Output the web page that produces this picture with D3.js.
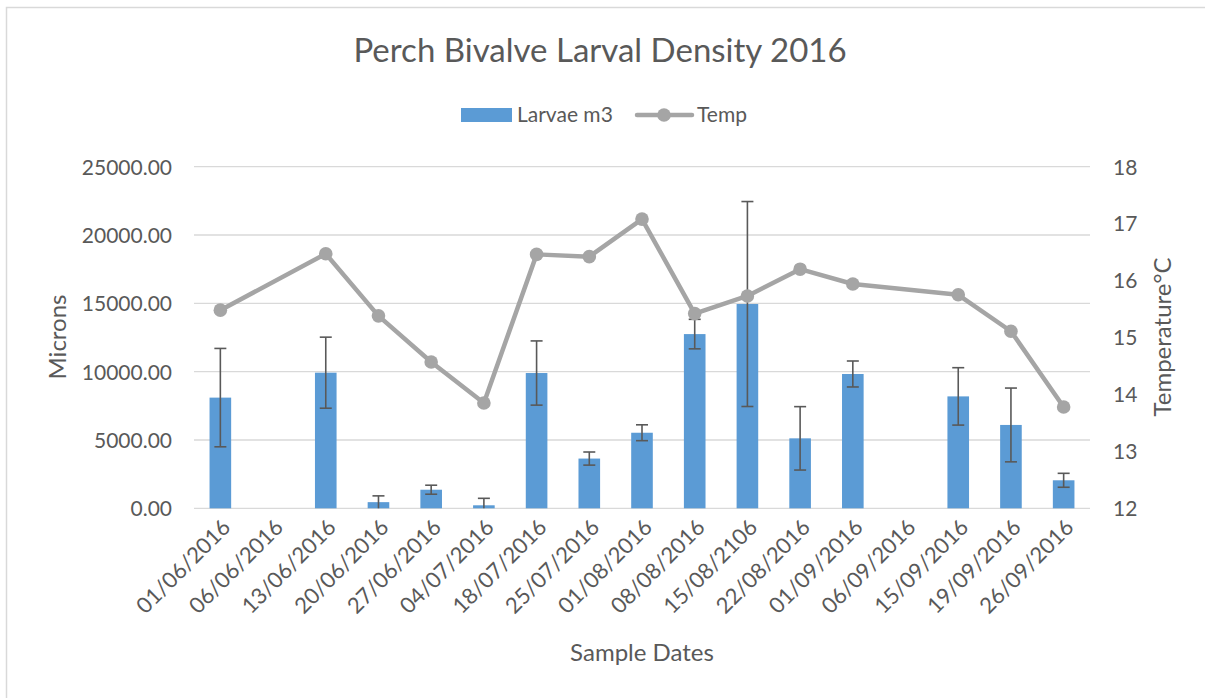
<!DOCTYPE html>
<html><head><meta charset="utf-8">
<script src="https://cdn.jsdelivr.net/npm/d3@7"></script>
<style>
html,body{margin:0;padding:0;background:#fff;}
svg{display:block;}
text{font-family:"Lato","Open Sans",sans-serif;fill:#595959;}
</style></head>
<body>
<svg id="chart" width="1205" height="698"></svg>
<script>
const dates = ["01/06/2016","06/06/2016","13/06/2016","20/06/2016","27/06/2016","04/07/2016","18/07/2016","25/07/2016","01/08/2016","08/08/2016","15/08/2106","22/08/2016","01/09/2016","06/09/2016","15/09/2016","19/09/2016","26/09/2016"];
const larvae = [8100, null, 9925, 450, 1360, 220, 9900, 3640, 5530, 12750, 14950, 5120, 9830, null, 8190, 6100, 2050];
const larvaeErr = [3600, null, 2600, 460, 330, 510, 2350, 480, 580, 1080, 7500, 2320, 950, null, 2100, 2700, 510];
const temp = [15.48, null, 16.47, 15.38, 14.57, 13.85, 16.46, 16.42, 17.08, 15.42, 15.73, 16.20, 15.94, null, 15.75, 15.11, 13.78];
const leftTicks = [0, 5000, 10000, 15000, 20000, 25000];
const rightTicks = [12, 13, 14, 15, 16, 17, 18];

const svg = d3.select("#chart");
const L = 194, R = 1090, T = 166.7, B = 508.3;

svg.append("rect").attr("x",6.5).attr("y",7.5).attr("width",1220).attr("height",720)
  .attr("fill","#fff").attr("stroke","#d9d9d9").attr("stroke-width",1.5);

const x = d3.scaleBand().domain(dates).range([L, R]).padding(0);
const yL = d3.scaleLinear().domain([0, 25000]).range([B, T]);
const yR = d3.scaleLinear().domain([12, 18]).range([B, T]);

// gridlines
svg.append("g").selectAll("line").data(leftTicks).join("line")
  .attr("x1", L).attr("x2", R).attr("y1", d => yL(d)).attr("y2", d => yL(d))
  .attr("stroke", "#d9d9d9").attr("stroke-width", 1.3);

// left axis labels
const axL = svg.append("g").attr("transform", `translate(${L - 22},0)`)
  .call(d3.axisLeft(yL).tickValues(leftTicks).tickFormat(d3.format(".2f")).tickSize(0).tickPadding(0));
axL.select(".domain").remove();
axL.selectAll("text").style("font-size","21px").attr("fill","#595959").attr("dy","0.35em");

// right axis labels
const axR = svg.append("g").attr("transform", `translate(${R + 23},0)`)
  .call(d3.axisRight(yR).tickValues(rightTicks).tickFormat(d3.format("d")).tickSize(0).tickPadding(0));
axR.select(".domain").remove();
axR.selectAll("text").style("font-size","21px").attr("fill","#595959").attr("dy","0.35em");

// bottom axis labels
const axB = svg.append("g").attr("transform", `translate(0,${B})`)
  .call(d3.axisBottom(x).tickSize(0).tickPadding(0));
axB.select(".domain").remove();
axB.selectAll("text").style("font-size","22px").attr("fill","#595959")
  .attr("text-anchor","end").attr("dy","0.35em")
  .attr("transform","translate(6,15) rotate(-45)");

// bars
const bw = x.bandwidth() * 0.41;
const barData = dates.map((d,i) => ({d, v: larvae[i], e: larvaeErr[i], t: temp[i]}));
svg.append("g").selectAll("rect").data(barData.filter(b => b.v != null)).join("rect")
  .attr("x", b => x(b.d) + x.bandwidth()/2 - bw/2)
  .attr("width", bw)
  .attr("y", b => yL(b.v))
  .attr("height", b => B - yL(b.v))
  .attr("fill", "#5b9bd5");

// error bars
const eg = svg.append("g").attr("stroke", "#595959").attr("stroke-width", 1.6);
barData.filter(b => b.v != null).forEach(b => {
  const cx = x(b.d) + x.bandwidth()/2;
  const hi = b.v + b.e, lo = Math.max(0, b.v - b.e);
  eg.append("line").attr("x1", cx).attr("x2", cx).attr("y1", yL(hi)).attr("y2", yL(lo));
  eg.append("line").attr("x1", cx-6).attr("x2", cx+6).attr("y1", yL(hi)).attr("y2", yL(hi));
  if (b.v - b.e > 0) eg.append("line").attr("x1", cx-6).attr("x2", cx+6).attr("y1", yL(lo)).attr("y2", yL(lo));
});

// temp line (gaps connected)
const tData = barData.filter(b => b.t != null);
svg.append("path").datum(tData)
  .attr("d", d3.line().x(b => x(b.d) + x.bandwidth()/2).y(b => yR(b.t)))
  .attr("fill","none").attr("stroke","#a5a5a5").attr("stroke-width",4.5).attr("stroke-linejoin","round");
svg.append("g").selectAll("circle").data(tData).join("circle")
  .attr("cx", b => x(b.d) + x.bandwidth()/2).attr("cy", b => yR(b.t)).attr("r", 6.8)
  .attr("fill","#a5a5a5");

// title
svg.append("text").attr("x", 600).attr("y", 62).attr("text-anchor","middle")
  .style("font-size","33px").text("Perch Bivalve Larval Density 2016");

// legend
const lg = svg.append("g");
lg.append("rect").attr("x",461).attr("y",108).attr("width",51).attr("height",14).attr("fill","#5b9bd5");
lg.append("text").attr("x",517).attr("y",115).attr("dy","0.35em").style("font-size","21px").text("Larvae m3");
lg.append("line").attr("x1",637).attr("x2",692).attr("y1",115).attr("y2",115)
  .attr("stroke","#a5a5a5").attr("stroke-width",4.5).attr("stroke-linecap","round");
lg.append("circle").attr("cx",664).attr("cy",115).attr("r",6.8).attr("fill","#a5a5a5");
lg.append("text").attr("x",697).attr("y",115).attr("dy","0.35em").style("font-size","21px").text("Temp");

// axis titles
svg.append("text").attr("transform","translate(66,337) rotate(-90)").attr("text-anchor","middle")
  .style("font-size","24px").text("Microns");
svg.append("text").attr("transform","translate(1171,337) rotate(-90)").attr("text-anchor","middle")
  .style("font-size","24px").text("Temperature°C");
svg.append("text").attr("x",642).attr("y",661).attr("text-anchor","middle")
  .style("font-size","24px").text("Sample Dates");
</script>
</body></html>
